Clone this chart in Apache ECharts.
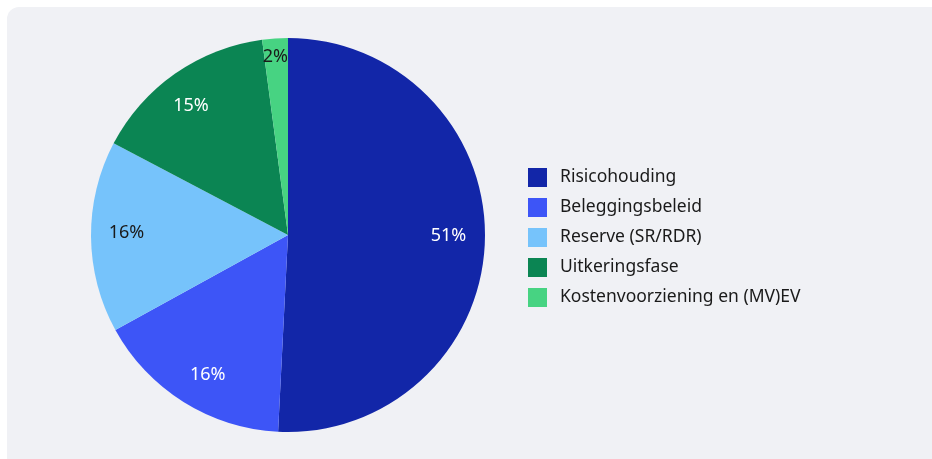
<!DOCTYPE html>
<html><head><meta charset="utf-8">
<script src="https://cdn.jsdelivr.net/npm/echarts@6/dist/echarts.min.js"></script>
<style>
html,body{margin:0;padding:0;background:#ffffff;width:932px;height:459px;overflow:hidden;}
#bg{position:absolute;left:7px;top:7px;width:940px;height:470px;background:#f0f1f5;border-radius:12px;}
#c{position:absolute;left:0;top:0;width:932px;height:459px;}
</style></head>
<body><div id="bg"></div><div id="c"></div>
<script>
var categories = ['Risicohouding','Beleggingsbeleid','Reserve (SR/RDR)','Uitkeringsfase','Kostenvoorziening en (MV)EV'];
var values = [50.8, 16.2, 15.7, 15.2, 2.1];
var colors = ['#1226a8','#3d55f7','#76c3fb','#0b8553','#47d382'];
var labelColors = ['#ffffff','#ffffff','#1a1a1a','#ffffff','#1a1a1a'];
var labelOffsets = [[-2,-3],[6,2],[1,-4],[-4,4],[-2,-16]];
var font = 'Noto Sans';

var chart = echarts.init(document.getElementById('c'), null, {renderer:'canvas'});
var pieData = categories.map(function(n,i){return {name:n, value:values[i], itemStyle:{color:colors[i]}};});
var labelData = categories.map(function(n,i){
  return {name:n, value:values[i], label:{color:labelColors[i], offset:labelOffsets[i]}};
});
chart.setOption({
  animation:false,
  backgroundColor:'transparent',
  legend:{
    orient:'vertical', left:523, top:163,
    itemWidth:19, itemHeight:19, itemGap:11,
    icon:'rect',
    data:categories,
    textStyle:{fontFamily:font, fontSize:17.5, color:'#1a1a1a', padding:[4,0,0,8]}
  },
  series:[
    {type:'pie', center:[288,235], radius:[0,197], startAngle:90, clockwise:true,
     data:pieData, label:{show:false}, labelLine:{show:false}, silent:true,
     itemStyle:{borderWidth:0}},
    {type:'pie', center:[288,235], radius:[122,197], startAngle:90, clockwise:true,
     data:labelData, silent:true, legendHoverLink:false,
     itemStyle:{color:'rgba(0,0,0,0)', borderWidth:0},
     label:{show:true, position:'inside', fontFamily:font, fontSize:18,
       formatter:function(p){return Math.round(p.value)+'%';}},
     labelLine:{show:false}}
  ]
});
</script></body></html>
